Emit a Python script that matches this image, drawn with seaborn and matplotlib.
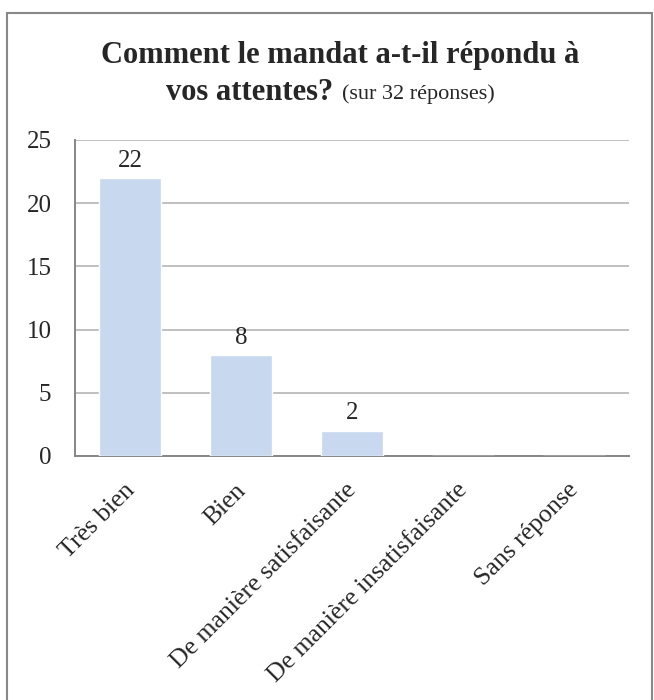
import matplotlib
matplotlib.use("Agg")
import matplotlib.pyplot as plt
import matplotlib.transforms as mtransforms
import seaborn as sns
import pandas as pd
from matplotlib.patches import Rectangle

categories = ["Très bien", "Bien", "De manière satisfaisante",
              "De manière insatisfaisante", "Sans réponse"]
counts = [22, 8, 2, 0, 0]
labels_shown = ["22", "8", "2", "", ""]
yticks = [0, 5, 10, 15, 20, 25]

sns.set_style("white")
plt.rcParams["font.family"] = ["Liberation Serif", "DejaVu Serif"]

df = pd.DataFrame({"categorie": categories, "n": counts})

fig = plt.figure(figsize=(6.54, 7.0), dpi=100)
ax = fig.add_axes([75 / 654, 1 - 456 / 700, 554 / 654, 316 / 700])

sns.barplot(data=df, x="categorie", y="n", color="#c8d8ee", saturation=1,
            width=0.56, ax=ax, zorder=3)

ax.set_ylim(0, 25)
ax.set_yticks(yticks)
ax.set_xlim(-0.5, len(categories) - 0.5)
ax.yaxis.grid(True, color="#c0c0c0", linewidth=1.4, zorder=0)
ax.set_axisbelow(True)
for s in ["top", "right"]:
    ax.spines[s].set_visible(False)
for s in ["left", "bottom"]:
    ax.spines[s].set_color("#868686")
    ax.spines[s].set_linewidth(1.4)
ax.set_xlabel("")
ax.set_ylabel("")
ax.tick_params(axis="y", labelsize=18, length=0, pad=17)
ax.tick_params(axis="x", labelsize=18.5, length=0, pad=8)

# décalage des étiquettes inclinées (vers la gauche et vers le bas)
shift = mtransforms.ScaledTranslation(-0.07, -0.12, fig.dpi_scale_trans)
for lab in ax.get_xticklabels():
    lab.set_rotation(45)
    lab.set_ha("right")
    lab.set_va("top")
    lab.set_rotation_mode("anchor")
    lab.set_transform(lab.get_transform() + shift)

for i, (v, t) in enumerate(zip(counts, labels_shown)):
    if t:
        ax.text(i, v + 0.5, t, ha="center", va="bottom", fontsize=18)

fig.text(340 / 654, 1 - 56 / 700, "Comment le mandat a-t-il répondu à",
         ha="center", va="center", fontsize=22, fontweight="bold")
fig.text(333 / 654, 1 - 93 / 700, "vos attentes?",
         ha="right", va="center", fontsize=22, fontweight="bold")
fig.text(342 / 654, 1 - 94 / 700, "(sur 32 réponses)",
         ha="left", va="center", fontsize=16)

fig.patches.append(Rectangle((7 / 654, -0.01), 645 / 654, 1 - 13 / 700 + 0.01,
                             transform=fig.transFigure, fill=False,
                             edgecolor="#888888", linewidth=1.5))

fig.savefig("out.png", dpi=100)
